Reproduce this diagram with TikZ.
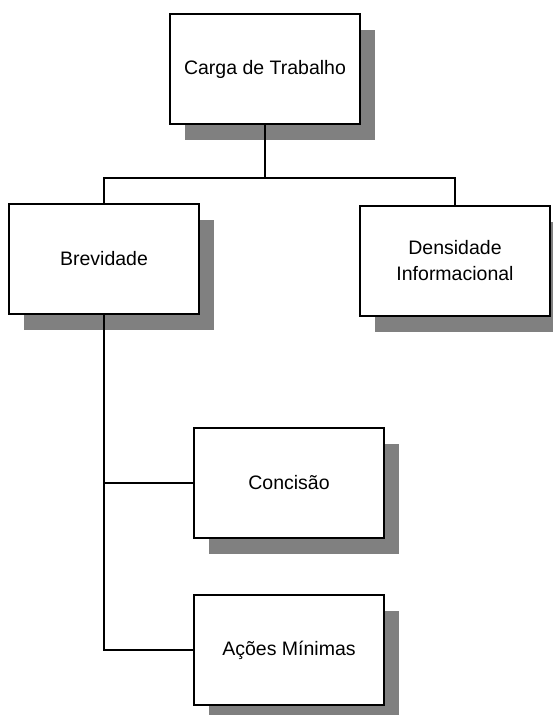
\documentclass[tikz,border=0pt]{standalone}
\usepackage{fontspec}
\setmainfont{Liberation Sans}
\usetikzlibrary{shadows}

\begin{document}
\begin{tikzpicture}[x=1pt, y=-1pt, line width=1.6pt,
                    every node/.style={inner sep=2pt},
                    caixa/.style={draw, fill=white, minimum width=190pt,
                      minimum height=110pt, align=center,
                      font=\fontsize{19.5}{26}\selectfont,
                      drop shadow={shadow xshift=15pt, shadow yshift=-16pt,
                        fill=black!50, opacity=1}}]
\useasboundingbox (0,0) rectangle (552,715);
\node[caixa] (carga) at (265,69)  {Carga de Trabalho};
\node[caixa] (brev)  at (104,259) {Brevidade};
\node[caixa] (dens)  at (455,261) {Densidade\\Informacional};
\node[caixa] (conc)  at (289,483) {Concisão};
\node[caixa] (acoes) at (289,650) {Ações Mínimas};
% ligacoes
\draw (carga.south) -- ++(0,53) coordinate (barra);
\draw (brev.north) |- (barra) -| (dens.north);
\draw (brev.south) |- (conc.west);
\draw (brev.south) |- (acoes.west);
\end{tikzpicture}
\end{document}
